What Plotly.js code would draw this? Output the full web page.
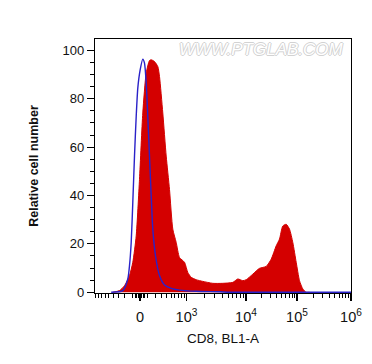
<!DOCTYPE html>
<html><head><meta charset="utf-8">
<script src="https://cdn.plot.ly/plotly-3.0.1.min.js"></script>
<style>html,body{margin:0;padding:0;background:#fff;}#chart{width:372px;height:364px;}</style>
</head><body><div id="chart"></div>
<script>
// Display-scale (channel) positions, 0..256 across the x axis
const cd8Channel = [17.8,24.5,29.5,34.5,37.8,41.2,44.5,47.8,51.2,54.5,56.2,59.5,62.8,64.5,67.8,71.2,74.5,77.8,81.2,84.5,89.5,92.8,96.2,101.2,107.8,117.8,127.8,137.8,142.8,147.8,151.2,157.8,164.5,171.2,176.2,181.2,184.5,187.8,191.2,194.5,197.8,201.2,204.5,207.8,211.2,214.5];
const cd8Count   = [0,0.7,2.7,6.9,12.4,23.3,46.7,74.1,90.6,95.8,96.1,95.4,93.3,89.2,74.1,56.3,42.5,26.1,20.6,14.4,12.4,8.2,6.2,5.2,4.5,3.7,3.7,4.1,5.5,4.8,5.2,7.5,9.9,10.7,13.7,19.2,22.0,27.4,28.1,26.1,20.6,12.4,4.8,1.4,0,0];
const isoChannel = [16.2,27.8,32.8,34.5,36.2,37.8,39.5,41.2,42.8,45.2,47.8,49.5,51.2,52.8,54.5,56.2,57.8,60.5,64.5,69.5,76.2,84.5,101.2,124.5,134.5,256];
const isoCount   = [0,0.7,5.5,11,20.6,37.1,56.3,72.7,84.4,92,96.4,94.7,86.5,72.7,56.3,39.8,26.1,15.1,6.9,3,1.6,0.9,0.4,0.2,0,0];

// Axis tick anchors: intensity -> channel
const majorValues = [0, 1e3, 1e4, 1e5, 1e6];
const majorLabels = ['0','10<sup>3</sup>','10<sup>4</sup>','10<sup>5</sup>','10<sup>6</sup>'];
const decadeChannels = {3: 91.5, 4: 151, 5: 202, 6: 256};
const zeroChannel = 45;
const yTicks = [0,20,40,60,80,100];

function toChannel(v){
  if (Math.abs(v) <= 1000){
    const c = 300;
    return zeroChannel + (decadeChannels[3]-zeroChannel) * Math.sign(v) * Math.asinh(Math.abs(v)/c) / Math.asinh(1000/c);
  }
  const l = Math.log10(v), d = Math.floor(l);
  const a = decadeChannels[d], b = decadeChannels[Math.min(d+1,6)];
  return a + (b-a)*(l-d);
}
const majorTickPos = majorValues.map(toChannel);
const minorPos = [];
[-900,-800,-700,-600,-500,-400,-300,-200,-100,-60,-40,-20,20,40,60,100,200,300,400,500,600,700,800,900].forEach(v=>minorPos.push(toChannel(v)));
[3,4,5].forEach(d=>{for(let m=2;m<=9;m++) minorPos.push(toChannel(m*Math.pow(10,d)));});

const font = {family:'Arial, "Liberation Sans", sans-serif', size:13, color:'#111'};
const data = [
  {x: cd8Channel, y: cd8Count, type:'scatter', mode:'lines', fill:'tozeroy',
   line:{color:'#d40000', width:1, shape:'spline', smoothing:0.6}, fillcolor:'#d40000', hoverinfo:'skip'},
  {x: isoChannel, y: isoCount, type:'scatter', mode:'lines',
   line:{color:'#2a22c8', width:1.4, shape:'spline', smoothing:0.6}, hoverinfo:'skip'}
];
const layout = {
  width:372, height:364, margin:{l:95, r:21, t:39, b:71},
  paper_bgcolor:'#fff', plot_bgcolor:'#fff', showlegend:false, font: font,
  xaxis:{range:[0,256], showgrid:false, zeroline:false, showline:true, mirror:true, linecolor:'#000', linewidth:1.2,
    tickmode:'array', tickvals: majorTickPos, ticktext: majorLabels, ticks:'outside', ticklen:7, tickwidth:1.2, tickcolor:'#000',
    ticklabelstandoff:3,
    minor:{tickmode:'array', tickvals: minorPos, ticks:'outside', ticklen:3.5, tickwidth:1, tickcolor:'#000'},
    tickfont:{family:font.family, size:14.5, color:'#111'},
    title:{text:'CD8, BL1-A', font:{family:font.family, size:13.5, color:'#111'}, standoff:10}},
  yaxis:{range:[-0.3,104.7], showgrid:false, zeroline:false, showline:true, mirror:true, linecolor:'#000', linewidth:1.2,
    tickmode:'array', tickvals: yTicks, ticks:'outside', ticklen:7, tickwidth:1.2, tickcolor:'#000',
    minor:{dtick:5, ticks:'outside', ticklen:3.5, tickwidth:1, tickcolor:'#000'},
    tickfont:{family:font.family, size:13, color:'#111'},
    title:{text:'<b>Relative cell number</b>', font:{family:font.family, size:12.5, color:'#111'}, standoff:21}},
  annotations:[{text:'<i>WWW.PTGLAB.COM</i>', xref:'paper', yref:'paper', x:0.98, y:0.96, xanchor:'right', yanchor:'middle', showarrow:false,
    font:{family:font.family, size:17, color:'#ffffff', shadow:'1px 0 0 #d2d2d2, -1px 0 0 #d2d2d2, 0 1px 0 #d2d2d2, 0 -1px 0 #d2d2d2'}}]
};
Plotly.newPlot('chart', data, layout, {staticPlot:true, displayModeBar:false});
</script></body></html>
